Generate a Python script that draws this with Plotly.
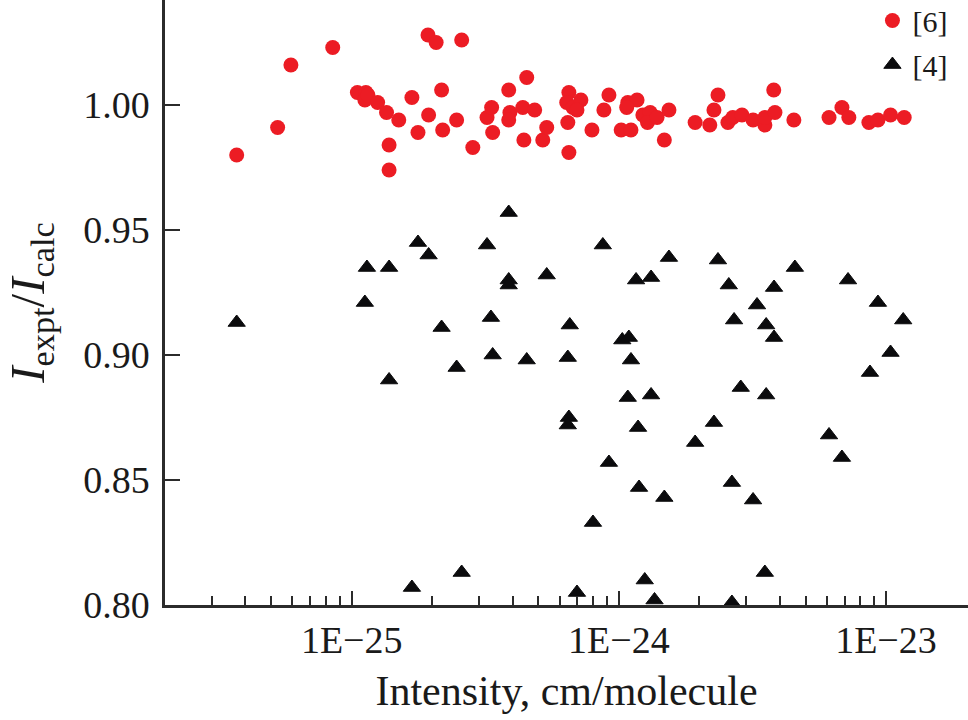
import plotly.graph_objects as go

# Reference [6] series: intensity (cm/molecule) and I_expt/I_calc
ref6_intensity = [3.71e-26, 5.28e-26, 5.92e-26, 8.49e-26, 1.05e-25, 1.13e-25, 1.12e-25, 1.15e-25,
                  1.25e-25, 1.35e-25, 1.38e-25, 1.38e-25, 1.50e-25, 1.68e-25, 1.77e-25, 1.93e-25,
                  2.07e-25, 1.94e-25, 2.17e-25, 2.19e-25, 2.47e-25, 2.58e-25, 2.84e-25, 3.21e-25,
                  3.34e-25, 3.37e-25, 3.87e-25, 3.91e-25, 3.87e-25, 4.37e-25, 4.52e-25, 4.84e-25,
                  4.41e-25, 5.19e-25, 5.37e-25, 6.50e-25, 6.38e-25, 6.73e-25, 7.21e-25, 6.97e-25,
                  6.44e-25, 6.50e-25, 7.93e-25, 8.79e-25, 9.18e-25, 1.02e-24, 1.11e-24, 1.08e-24,
                  1.17e-24, 1.07e-24, 1.23e-24, 1.31e-24, 1.28e-24, 1.39e-24, 1.48e-24, 1.54e-24,
                  1.93e-24, 2.19e-24, 2.35e-24, 2.27e-24, 2.56e-24, 2.67e-24, 2.89e-24, 3.18e-24,
                  3.52e-24, 3.52e-24, 3.84e-24, 3.80e-24, 4.52e-24, 6.12e-24, 6.84e-24, 7.26e-24,
                  8.63e-24, 9.33e-24, 1.04e-23, 1.17e-23]
ref6_ratio = [0.980, 0.991, 1.016, 1.023, 1.005, 1.005, 1.002, 1.004,
              1.001, 0.997, 0.984, 0.974, 0.994, 1.003, 0.989, 1.028,
              1.025, 0.996, 1.006, 0.990, 0.994, 1.026, 0.983, 0.995,
              0.999, 0.989, 1.006, 0.997, 0.994, 0.999, 1.011, 0.998,
              0.986, 0.986, 0.991, 1.005, 1.001, 0.999, 1.002, 0.998,
              0.993, 0.981, 0.990, 0.998, 1.004, 0.990, 0.990, 1.001,
              1.002, 0.999, 0.996, 0.997, 0.993, 0.995, 0.986, 0.998,
              0.993, 0.992, 1.004, 0.998, 0.993, 0.995, 0.996, 0.994,
              0.992, 0.995, 0.997, 1.006, 0.994, 0.995, 0.999, 0.995,
              0.993, 0.994, 0.996, 0.995]

# Reference [4] series
ref4_intensity = [3.71e-26, 1.14e-25, 1.38e-25, 1.12e-25, 1.38e-25, 1.77e-25, 1.94e-25, 2.17e-25,
                  2.47e-25, 3.21e-25, 3.32e-25, 3.37e-25, 3.87e-25, 3.87e-25, 3.87e-25, 4.52e-25,
                  5.37e-25, 8.71e-25, 1.54e-24, 2.35e-24, 1.16e-24, 1.32e-24, 2.58e-24, 3.81e-24,
                  4.56e-24, 3.29e-24, 7.21e-24, 9.33e-24, 1.16e-23, 6.55e-25, 1.03e-24, 1.09e-24,
                  2.70e-24, 3.56e-24, 3.81e-24, 6.44e-25, 1.11e-24, 1.04e-23, 8.71e-24, 1.08e-24,
                  1.32e-24, 2.86e-24, 3.56e-24, 6.50e-25, 6.44e-25, 1.18e-24, 2.27e-24, 1.93e-24,
                  6.12e-24, 6.84e-24, 9.18e-25, 1.19e-24, 1.48e-24, 2.65e-24, 3.18e-24, 8.00e-25,
                  1.25e-24, 3.52e-24, 6.97e-25, 1.36e-24, 2.65e-24, 1.68e-25, 2.58e-25]
ref4_ratio = [0.913, 0.935, 0.935, 0.921, 0.890, 0.945, 0.940, 0.911,
              0.895, 0.944, 0.915, 0.900, 0.957, 0.930, 0.928, 0.898,
              0.932, 0.944, 0.939, 0.938, 0.930, 0.931, 0.928, 0.927,
              0.935, 0.920, 0.930, 0.921, 0.914, 0.912, 0.906, 0.907,
              0.914, 0.912, 0.907, 0.899, 0.898, 0.901, 0.893, 0.883,
              0.884, 0.887, 0.884, 0.875, 0.872, 0.871, 0.873, 0.865,
              0.868, 0.859, 0.857, 0.847, 0.843, 0.849, 0.842, 0.833,
              0.810, 0.813, 0.805, 0.802, 0.801, 0.807, 0.813]

x_major_vals = [1e-25, 1e-24, 1e-23]
x_major_text = ["1E\u221225", "1E\u221224", "1E\u221223"]
x_minor_vals = [3e-26, 4e-26, 5e-26, 6e-26, 7e-26, 8e-26, 9e-26,
                2e-25, 3e-25, 4e-25, 5e-25, 6e-25, 7e-25, 8e-25, 9e-25,
                2e-24, 3e-24, 4e-24, 5e-24, 6e-24, 7e-24, 8e-24, 9e-24]
y_tick_vals = [0.80, 0.85, 0.90, 0.95, 1.00]

FONT = "Liberation Serif"
AX = "#2b2b2b"
TXT = "#1a1a1a"

fig = go.Figure()
fig.add_trace(go.Scatter(
    x=ref6_intensity, y=ref6_ratio, mode="markers", name="[6]",
    legendgroup="a",
    marker=dict(symbol="circle", size=15, color="#ec1c24", line=dict(width=0)),
))
fig.add_trace(go.Scatter(
    x=ref4_intensity, y=ref4_ratio, mode="markers", name="[4]",
    legendgroup="b",
    marker=dict(symbol="triangle-up", size=15, color="#0b0b0d", line=dict(width=1, color="#0b0b0d")),
))

fig.update_layout(
    width=968, height=720,
    margin=dict(l=165, r=0, t=0, b=115, autoexpand=False),
    paper_bgcolor="white", plot_bgcolor="white",
    font=dict(family=FONT, color=TXT),
    showlegend=True,
    legend=dict(x=0.881, y=1.009, xanchor="left", yanchor="top",
                font=dict(family=FONT, size=30, color=TXT),
                bgcolor="rgba(0,0,0,0)", tracegroupgap=2, itemwidth=30),
    xaxis=dict(
        type="log",
        range=[-25.699, -22.693],
        showgrid=False, zeroline=False,
        showline=True, linecolor=AX, linewidth=2.5,
        tickmode="array", tickvals=x_major_vals, ticktext=x_major_text,
        ticks="inside", ticklen=14, tickwidth=2, tickcolor=AX,
        ticklabelstandoff=0,
        tickfont=dict(family=FONT, size=38, color=TXT),
        minor=dict(tickmode="array", tickvals=x_minor_vals, ticks="inside",
                   ticklen=9, tickwidth=2, tickcolor=AX, showgrid=False),
        title=dict(text="Intensity, cm/molecule",
                   font=dict(family=FONT, size=42, color=TXT), standoff=16),
        automargin=False,
    ),
    yaxis=dict(
        range=[0.80, 1.042],
        showgrid=False, zeroline=False,
        showline=True, linecolor=AX, linewidth=2.5,
        tickmode="array", tickvals=y_tick_vals, tickformat=".2f",
        ticks="inside", ticklen=15, tickwidth=2, tickcolor=AX,
        ticklabelstandoff=5,
        tickfont=dict(family=FONT, size=38, color=TXT),
        title=dict(text="<i>I</i><sub>expt</sub>/<i>I</i><sub>calc</sub>",
                   font=dict(family=FONT, size=49, color=TXT), standoff=26),
        automargin=False,
    ),
)

fig.write_html("out.html", config={"displayModeBar": False},
               post_script="document.body.style.margin='0';")
